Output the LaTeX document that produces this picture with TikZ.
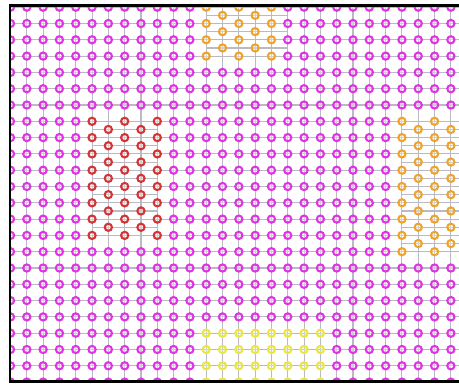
\documentclass[tikz,border=0pt]{standalone}
\definecolor{gridgray}{RGB}{186,186,196}
\definecolor{magring}{RGB}{222,52,226}
\definecolor{orring}{RGB}{238,164,44}
\definecolor{redring}{RGB}{212,52,52}
\definecolor{yelring}{RGB}{232,230,70}
\begin{document}
\begin{tikzpicture}[x=1pt,y=-1pt,
  gridln/.style={draw=gridgray,line width=1.1pt},
  ringbase/.style={line width=2.1pt,fill=white,fill opacity=0.3},
  mring/.style={ringbase,draw=magring},
  oring/.style={ringbase,draw=orring},
  rring/.style={ringbase,draw=redring},
  yring/.style={ringbase,draw=yelring},
  frameln/.style={draw=black,line width=2.6pt}]
\def\cx#1{(10.5+16.31*(#1))}
\def\ry#1{(7.2+16.3*(#1))}
\def\rr{3.6}
\useasboundingbox (0,0) rectangle (459,384);
\begin{scope}
\clip (10,5.5) rectangle (459,381.5);
% base grid
\foreach \c in {0,...,27} \draw[gridln] ({\cx{\c}},0) -- ({\cx{\c}},384);
\foreach \r in {0,...,23} \draw[gridln] (0,{\ry{\r}}) -- (459,{\ry{\r}});
% refined half-row lines
\foreach \r in {-1,0,1,2} \draw[gridln] ({\cx{12}},{\ry{\r+0.5}}) -- ({\cx{17}},{\ry{\r+0.5}});
\foreach \r in {7,...,13} \draw[gridln] ({\cx{5}},{\ry{\r+0.5}}) -- ({\cx{9}},{\ry{\r+0.5}});
\foreach \r in {7,...,14} \draw[gridln] ({\cx{24}},{\ry{\r+0.5}}) -- (459,{\ry{\r+0.5}});
% magenta points
\foreach \c in {0,...,27}{
  \foreach \r in {0,...,23}{
    \pgfmathtruncatemacro{\inreg}{((\c>=12 && \c<=16 && \r<=3) || (\c>=5 && \c<=9 && \r>=7 && \r<=14) || (\c>=24 && \r>=7 && \r<=15) || (\c>=12 && \c<=19 && \r>=20)) ? 1 : 0}
    \ifnum\inreg=0 \draw[mring] ({\cx{\c}},{\ry{\r}}) circle[radius=\rr]; \fi
  }
}
% top orange region
\foreach \c in {12,14,16} \foreach \r in {0,...,3} \draw[oring] ({\cx{\c}},{\ry{\r}}) circle[radius=\rr];
\foreach \c in {13,15} \foreach \r in {-1,0,1,2} \draw[oring] ({\cx{\c}},{\ry{\r+0.5}}) circle[radius=\rr];
% red region
\foreach \c in {5,7,9} \foreach \r in {7,...,14} \draw[rring] ({\cx{\c}},{\ry{\r}}) circle[radius=\rr];
\foreach \c in {6,8} \foreach \r in {7,...,13} \draw[rring] ({\cx{\c}},{\ry{\r+0.5}}) circle[radius=\rr];
% right orange region
\foreach \c in {24,26} \foreach \r in {7,...,15} \draw[oring] ({\cx{\c}},{\ry{\r}}) circle[radius=\rr];
\foreach \c in {25,27} \foreach \r in {7,...,14} \draw[oring] ({\cx{\c}},{\ry{\r+0.5}}) circle[radius=\rr];
% yellow region
\foreach \c in {12,...,19} \foreach \r in {20,...,23} \draw[yring] ({\cx{\c}},{\ry{\r}}) circle[radius=\rr];
\end{scope}
% frame
\draw[frameln] (459,5.5) -- (10,5.5) -- (10,381.5) -- (459,381.5);
\end{tikzpicture}
\end{document}
